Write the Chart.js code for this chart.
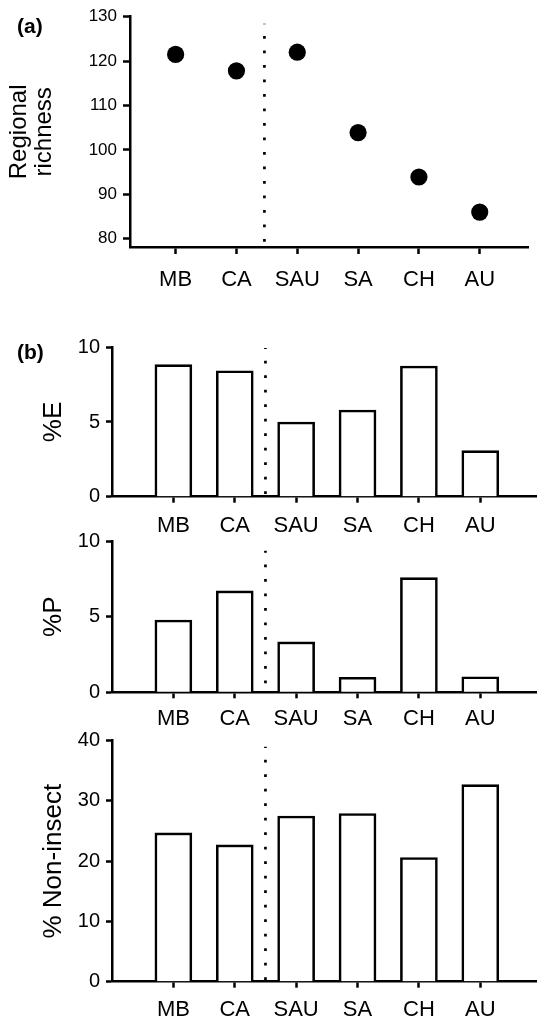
<!DOCTYPE html>
<html><head><meta charset="utf-8">
<script src="https://cdn.jsdelivr.net/npm/chart.js@4.4.0/dist/chart.umd.min.js"></script>
<style>
html,body{margin:0;padding:0;background:#fff;width:537px;height:1020px;overflow:hidden}
body{position:relative}
.box{position:absolute;left:0;width:537px}
canvas{display:block}
</style></head><body>
<div class="box" style="top:0px"><canvas id="cA" width="537" height="300"></canvas></div>
<div class="box" style="top:300px"><canvas id="cE" width="537" height="240"></canvas></div>
<div class="box" style="top:520px"><canvas id="cP" width="537" height="220"></canvas></div>
<div class="box" style="top:715px"><canvas id="cN" width="537" height="305"></canvas></div>
<script>
// ---- data ----
const categories = ['MB', 'CA', 'SAU', 'SA', 'CH', 'AU'];
const richness = [121.5, 117.8, 122.0, 103.9, 93.9, 86.0];
const pctE = [8.84, 8.43, 5.0, 5.8, 8.75, 3.08];
const pctP = [4.78, 6.7, 3.33, 0.99, 7.58, 1.03];
const pctNonInsect = [24.7, 22.7, 27.5, 27.9, 20.6, 32.7];
const richnessTicks = [80, 90, 100, 110, 120, 130];
const eTicks = [0, 5, 10];
const pTicks = [0, 5, 10];
const nTicks = [0, 10, 20, 30, 40];
const dividerA = 1.46;           // dotted separator between CA and SAU
const dividerB = 1.5;
const dividerRangeA = [79.3, 128.4];
const dividerRangeE = [0.18, 9.95];
const dividerRangeP = [0.6, 9.35];
const dividerRangeN = [0.28, 39.0];

Chart.defaults.font.family = 'Arial, "Liberation Sans", sans-serif';
Chart.defaults.color = '#000';

function panelLabel(text) {
  return {
    id: 'panelLabel' + text,
    afterDraw(chart) {
      const ctx = chart.ctx;
      ctx.save();
      ctx.font = 'bold 21px Arial, "Liberation Sans", sans-serif';
      ctx.fillStyle = '#000';
      ctx.textBaseline = 'middle';
      ctx.textAlign = 'left';
      ctx.fillText(text, 17, chart.options.plugins.panelPos);
      ctx.restore();
    }
  };
}

function makeOptions(cfg) {
  return {
    responsive: false,
    devicePixelRatio: 1,
    animation: false,
    events: [],
    layout: { padding: { top: cfg.padTop, right: cfg.padRight, left: 0, bottom: 0 } },
    plugins: { legend: { display: false }, tooltip: { enabled: false }, panelPos: cfg.labelY },
    scales: {
      x: {
        type: 'linear',
        min: cfg.xMin, max: cfg.xMax,
        offset: false,
        afterBuildTicks: s => { s.ticks = categories.map((c, i) => ({ value: i })); },
        afterFit: s => { s.height = cfg.xHeight; },
        ticks: {
          autoSkip: false, maxRotation: 0, minRotation: 0,
          padding: cfg.xLabelPad,
          font: { size: 22 },
          color: '#000',
          callback: v => categories[v]
        },
        grid: { display: true, offset: false, drawOnChartArea: false, drawTicks: true,
                tickLength: cfg.tickLen, tickWidth: 2.5, tickColor: '#000', color: '#000' },
        border: { display: true, color: '#000', width: 2.5 }
      },
      y: {
        type: 'linear',
        min: cfg.yMin, max: cfg.yMax,
        afterBuildTicks: s => { s.ticks = cfg.yTicks.map(v => ({ value: v })); },
        afterFit: s => { s.width = cfg.yWidth; },
        ticks: { padding: cfg.yLabelPad, font: { size: cfg.numSize }, color: '#000' },
        grid: { display: true, drawOnChartArea: false, drawTicks: true,
                tickLength: cfg.tickLen, tickWidth: 2.5, tickColor: '#000', color: '#000' },
        border: { display: true, color: '#000', width: 2.5 },
        title: {
          display: true, text: cfg.title, color: '#000',
          font: { size: cfg.titleSize, lineHeight: cfg.titleLH },
          padding: { top: cfg.titlePad, bottom: 0 }
        }
      }
    }
  };
}

function dividerDataset(x, range) {
  return {
    type: 'line',
    data: [{ x: x, y: range[0] }, { x: x, y: range[1] }],
    borderColor: '#000', borderWidth: 2.7, borderDash: [2.7, 11.8], borderCapStyle: 'butt',
    pointRadius: 0, showLine: true, fill: false, order: 0
  };
}

// ---- panel (a) ----
new Chart(document.getElementById('cA'), {
  type: 'line',
  data: {
    datasets: [
      dividerDataset(dividerA, dividerRangeA),
      {
        data: categories.map((c, i) => ({ x: i, y: richness[i] })),
        showLine: false, pointRadius: 8.6, pointBackgroundColor: '#000',
        pointBorderWidth: 0, borderColor: '#000'
      }
    ]
  },
  options: makeOptions({
    padTop: 16.7, padRight: 5, xMin: -0.75, xMax: 5.80, xHeight: 53, yWidth: 130,
    yMin: 78.13, yMax: 130, yTicks: richnessTicks, tickLen: 7, xLabelPad: 13,
    yLabelPad: 6, numSize: 17, title: ['Regional', 'richness'], titleSize: 24, titleLH: 1.05,
    titlePad: 7, labelY: 27.5
  }),
  plugins: [panelLabel('(a)')]
});

function barChart(id, values, ticks, yMax, divRange, cfg, extraPlugins) {
  return new Chart(document.getElementById(id), {
    type: 'bar',
    data: {
      datasets: [
        dividerDataset(dividerB, divRange),
        {
          data: categories.map((c, i) => ({ x: i, y: values[i] })),
          backgroundColor: '#fff', borderColor: '#000', borderWidth: 2.6,
          barThickness: 37, borderSkipped: 'bottom', order: 1
        }
      ]
    },
    options: makeOptions(Object.assign({
      padRight: 0, xMin: -1.0, xMax: 5.924, yWidth: 112,
      yMin: 0, yMax: yMax, yTicks: ticks, tickLen: 6, xLabelPad: 7,
      yLabelPad: 6, numSize: 20, titleSize: 26, titleLH: 1.2, titlePad: 38.5, labelY: 53
    }, cfg)),
    plugins: extraPlugins || []
  });
}

barChart('cE', pctE, eTicks, 10, dividerRangeE,
  { padTop: 47.3, xHeight: 43.3, title: '%E', xLabelPad: 10 }, [panelLabel('(b)')]);
barChart('cP', pctP, pTicks, 10, dividerRangeP,
  { padTop: 21, xHeight: 47.7, title: '%P', xLabelPad: 7 });
barChart('cN', pctNonInsect, nTicks, 40, dividerRangeN,
  { padTop: 25.7, xHeight: 38.3, title: '% Non-insect', xLabelPad: 9 });
</script>
</body></html>
